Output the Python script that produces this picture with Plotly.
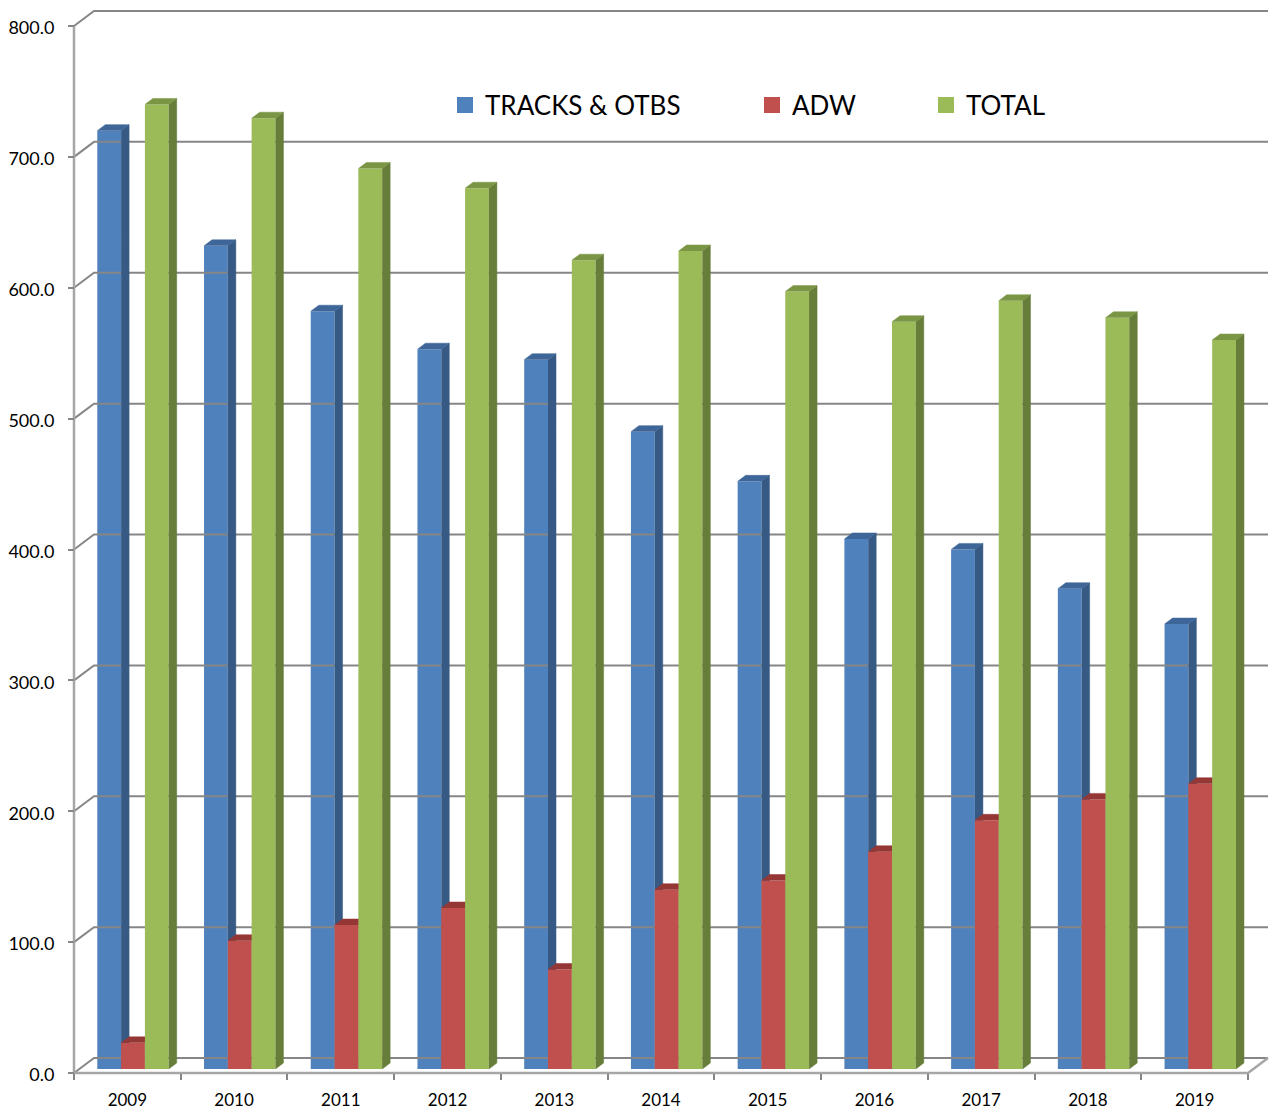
import plotly.graph_objects as go

years = ["2009", "2010", "2011", "2012", "2013", "2014", "2015", "2016", "2017", "2018", "2019"]
tracks_otbs = [717, 629, 579, 550, 542, 487, 449, 405, 397, 367, 340]
adw = [20, 98, 110, 123, 76, 137, 144, 166, 190, 206, 218]
total = [737, 726.5, 688, 673, 618, 625, 594, 571, 587, 574, 557]
y_ticks = [0, 100, 200, 300, 400, 500, 600, 700, 800]

W, H = 1272, 1113
AX_L, AX_R, AX_T, AX_B = 74, 1268, 11, 1073   # chart frame in page pixels
LEFT, RIGHT, TOP, BOTTOM = 70, 1272, 7, 1077  # plot area, a little larger so frame lines are not clipped
PX_X = (1248 - 74) / 11        # pixels per category
PX_Y = (1073 - 26) / 800       # pixels per value unit
x_lo = -0.5
x_hi = x_lo + (AX_R - AX_L) / PX_X
x_range = [x_lo - (AX_L - LEFT) / PX_X, x_hi + (RIGHT - AX_R) / PX_X]
y_range = [-(BOTTOM - AX_B) / PX_Y, (AX_B - TOP) / PX_Y]
wall_dx, wall_dy = 20 / PX_X, 15 / PX_Y
bar_dx, bar_dy = 8 / PX_X, 6 / PX_Y
bar_base = 4 / PX_Y
bar_w = 23.8 / PX_X
first_left = (97.3 - 74) / PX_X - 0.5
idx = list(range(len(years)))

GRID = "#868686"
FRONT = "#a6a6a6"
TEXT = "#000000"
series = [
    ("TRACKS & OTBS", tracks_otbs, "#4f81bd", "#375a85", "#3f6698", 0, ""),
    ("ADW", adw, "#c0504d", "#8a3a38", "#953735", 1, "2"),
    ("TOTAL", total, "#9bbb59", "#677d3a", "#7a9645", 2, "3"),
]

fig = go.Figure()

# walls and gridlines, drawn from the tick values
gx, gy = [], []
for v in y_ticks:
    gx += [x_lo, x_lo + wall_dx, x_hi, None]
    gy += [v, v + wall_dy, v + wall_dy, None]
fig.add_trace(go.Scatter(x=gx, y=gy, mode="lines", line=dict(color=GRID, width=2),
                         showlegend=False, hoverinfo="skip"))
fig.add_trace(go.Scatter(
    x=[x_lo, x_lo, None, x_lo, x_lo + len(years), x_hi],
    y=[y_ticks[-1], 0, None, 0, 0, wall_dy],
    mode="lines", line=dict(color=FRONT, width=2.5),
    showlegend=False, hoverinfo="skip"))


def prism(values, offset):
    sx, sy, tx, ty = [], [], [], []
    for i, v in zip(idx, values):
        l = i + offset
        r = l + bar_w
        top = v + bar_base
        sx += [r, r + bar_dx, r + bar_dx, r, None]
        sy += [bar_base, bar_base + bar_dy, top + bar_dy, top, None]
        tx += [l, l + bar_dx, r + bar_dx, r, None]
        ty += [top, top + bar_dy, top + bar_dy, top, None]
    return sx, sy, tx, ty


layout_axes = {}
for k, (name, vals, front, side, topc, pos, lg) in enumerate(series):
    suffix = "" if k == 0 else str(k + 1)
    xa, ya = "x" + suffix, "y" + suffix
    off = first_left + pos * bar_w
    sx, sy, tx, ty = prism(vals, off)
    fig.add_trace(go.Bar(x=idx, y=vals, base=bar_base, width=bar_w, offset=off, name=name,
                         marker=dict(color=front, line=dict(width=0)),
                         xaxis=xa, yaxis=ya, showlegend=False))
    for px_, py_, c in ((sx, sy, side), (tx, ty, topc)):
        fig.add_trace(go.Scatter(x=px_, y=py_, mode="lines", fill="toself", fillcolor=c,
                                 line=dict(color=c, width=0.5), xaxis=xa, yaxis=ya,
                                 showlegend=False, hoverinfo="skip"))
    # legend key
    fig.add_trace(go.Scatter(x=[None], y=[None], mode="markers", name=name,
                             marker=dict(symbol="square", size=17, color=front),
                             xaxis=xa, yaxis=ya, showlegend=True,
                             legend="legend" + lg, hoverinfo="skip"))
    if k > 0:
        layout_axes["xaxis" + suffix] = dict(range=x_range, overlaying="x", visible=False, fixedrange=True)
        layout_axes["yaxis" + suffix] = dict(range=y_range, overlaying="y", visible=False, fixedrange=True)


def legend_cfg(text_px):
    return dict(x=(text_px - 40 - LEFT) / (RIGHT - LEFT), y=(BOTTOM - 105) / (BOTTOM - TOP),
                xanchor="left", yanchor="middle", orientation="h",
                bgcolor="rgba(0,0,0,0)", borderwidth=0, itemsizing="trace",
                font=dict(family="Lato", size=26, color=TEXT))


fig.update_layout(
    width=W, height=H, autosize=False,
    margin=dict(l=LEFT, r=W - RIGHT, t=TOP, b=H - BOTTOM, pad=0, autoexpand=False),
    paper_bgcolor="white", plot_bgcolor="white",
    barmode="overlay",
    legend=legend_cfg(485), legend2=legend_cfg(792), legend3=legend_cfg(966),
    xaxis=dict(range=x_range, showgrid=False, zeroline=False, showline=False, automargin=False,
               anchor="free", position=(BOTTOM - AX_B) / (BOTTOM - TOP),
               tickmode="array", tickvals=idx, ticktext=years,
               ticks="outside", ticklen=12, tickcolor="rgba(0,0,0,0)",
               tickfont=dict(family="Lato", size=17, color=TEXT), fixedrange=True,
               minor=dict(tickmode="array", tickvals=[i - 0.5 for i in range(len(years) + 1)],
                          ticks="outside", ticklen=6, tickcolor=GRID, tickwidth=1.5, showgrid=False)),
    yaxis=dict(range=y_range, showgrid=False, zeroline=False, showline=False, automargin=False,
               anchor="free", position=(AX_L - LEFT) / (RIGHT - LEFT),
               tickmode="array", tickvals=y_ticks, ticktext=[f"{v:.1f}" for v in y_ticks],
               ticks="outside", ticklen=6, tickcolor=GRID, tickwidth=1.5,
               ticklabelstandoff=10, ticklabelshift=2,
               tickfont=dict(family="Lato", size=18, color=TEXT), fixedrange=True),
    **layout_axes,
)

fig.write_html("out.html", config={"displayModeBar": False},
               post_script="document.body.style.margin='0';document.body.style.overflow='hidden';")
